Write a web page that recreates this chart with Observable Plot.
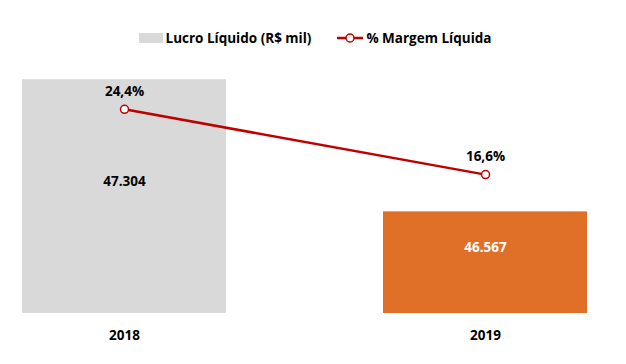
<!DOCTYPE html>
<html>
<head>
<meta charset="utf-8">
<script src="https://cdn.jsdelivr.net/npm/d3@7"></script>
<script src="https://cdn.jsdelivr.net/npm/@observablehq/plot@0.6"></script>
<style>
  html, body { margin: 0; padding: 0; background: #fff; }
  body { width: 626px; height: 364px; overflow: hidden; font-family: "Open Sans", "Noto Sans", sans-serif; }
  #legend { height: 60px; display: flex; justify-content: center; align-items: center; gap: 26px; padding-top: 16px; box-sizing: border-box; padding-left: 4px;
    font-size: 13.5px; font-weight: bold; color: #000; }
  .item { display: flex; align-items: center; gap: 3px; }
  .item svg { display: block; }
</style>
</head>
<body>
<div id="legend"></div>
<div id="chart"></div>
<script>
const years = ["2018", "2019"];
const lucro = [47304, 46567];           // Lucro Líquido (R$ mil)
const lucroLabels = ["47.304", "46.567"];
const margem = [24.4, 16.6];            // % Margem Líquida
const margemLabels = ["24,4%", "16,6%"];
const barColors = ["#D9D9D9", "#E07028"];
const barLabelColors = ["#000000", "#FFFFFF"];
const seriesNames = ["Lucro Líquido (R$ mil)", "% Margem Líquida"];
const lineColor = "#C00000";

const yMin = 46000, yMax = 47400;       // primary axis (R$ mil)
const pMin = 0, pMax = 30;              // secondary axis (%)
const toPrimary = d3.scaleLinear([pMin, pMax], [yMin, yMax]);

const data = years.map((y, i) => ({
  year: y, lucro: lucro[i], lucroLabel: lucroLabels[i],
  margem: margem[i], margemLabel: margemLabels[i],
  color: barColors[i], labelColor: barLabelColors[i]
}));

// Legend
const legend = document.getElementById("legend");
legend.innerHTML = `
  <div class="item"><svg width="24" height="10"><rect x="0" y="0" width="24" height="10" fill="${barColors[0]}"/></svg><span>${seriesNames[0]}</span></div>
  <div class="item"><svg width="26" height="12"><line x1="0" y1="6" x2="26" y2="6" stroke="${lineColor}" stroke-width="2.5"/><circle cx="13" cy="6" r="4" fill="#fff" stroke="${lineColor}" stroke-width="1.5"/></svg><span>${seriesNames[1]}</span></div>`;

const chart = Plot.plot({
  width: 626,
  height: 304,
  marginTop: 2,
  marginBottom: 51,
  marginLeft: 22,
  marginRight: 39,
  style: { fontFamily: '"Open Sans", "Noto Sans", sans-serif', fontSize: "13.5px", fontWeight: "bold", color: "#000", background: "#fff" },
  x: { domain: years, paddingInner: 0.435, paddingOuter: 0, label: null },
  y: { domain: [yMin, yMax], axis: null },
  marks: [
    Plot.barY(data, { x: "year", y1: yMin, y2: "lucro", fill: "color" }),
    Plot.text(data, { x: "year", y: d => (yMin + d.lucro) / 2, text: "lucroLabel", fill: "labelColor", dy: -15, fontSize: 13.5, fontWeight: "bold" }),
    Plot.line(data, { x: "year", y: d => toPrimary(d.margem), stroke: lineColor, strokeWidth: 2.5 }),
    Plot.dot(data, { x: "year", y: d => toPrimary(d.margem), r: 4, fill: "#fff", stroke: lineColor, strokeWidth: 1.5 }),
    Plot.text(data, { x: "year", y: d => toPrimary(d.margem), text: "margemLabel", fill: "#000", dy: -18, fontSize: 13.5, fontWeight: "bold" }),
    Plot.axisX({ tickSize: 0, tickPadding: 17, fontSize: 13.5, fontWeight: "bold", label: null })
  ]
});
document.getElementById("chart").appendChild(chart);
</script>
</body>
</html>
